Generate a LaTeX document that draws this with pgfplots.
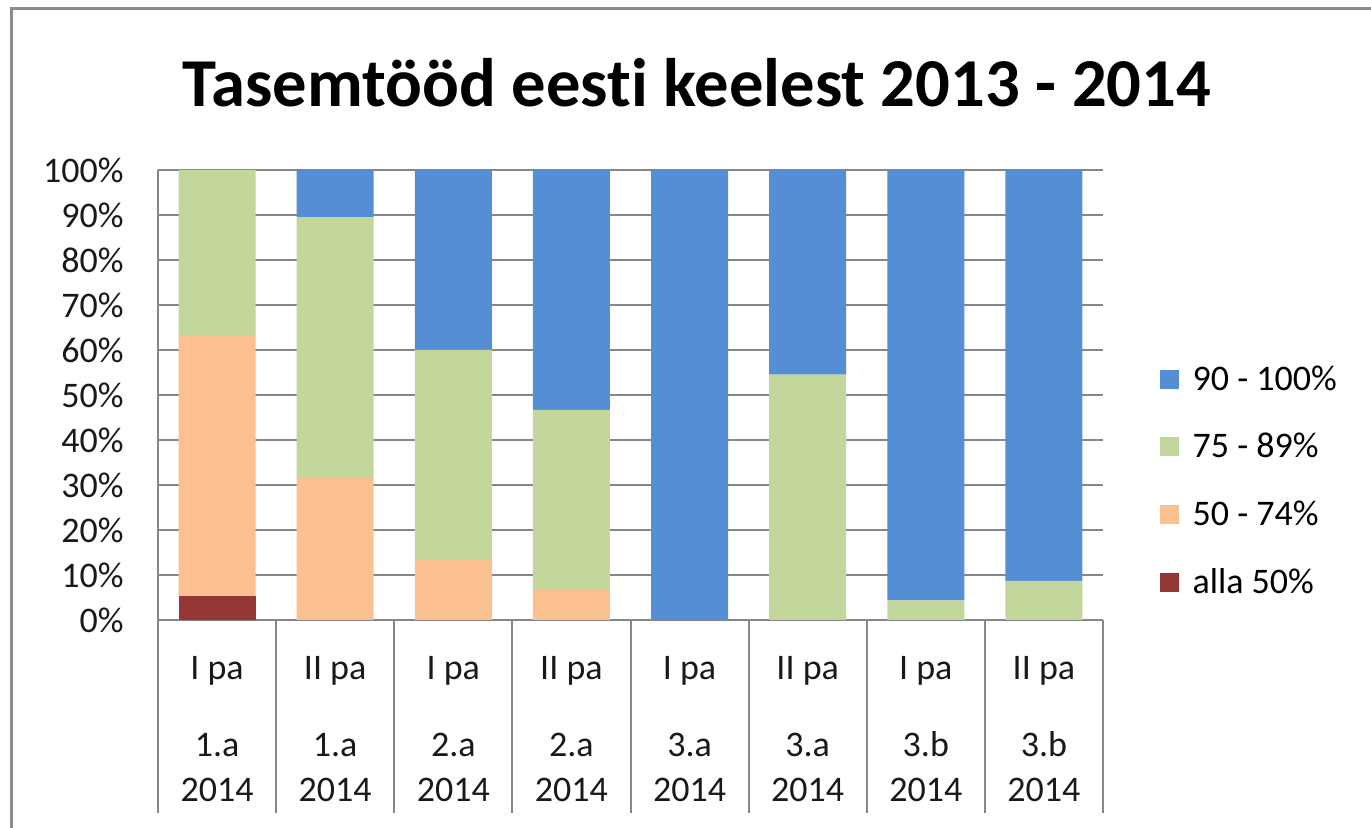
\documentclass[border=0pt]{standalone}
\usepackage{pgfplots}
\pgfplotsset{compat=1.18}
\usepackage{fontspec}
\setmainfont{Carlito}[Ligatures=NoCommon]
\definecolor{cBlue}{RGB}{85,142,213}
\definecolor{cGreen}{RGB}{195,214,155}
\definecolor{cOrange}{RGB}{250,192,144}
\definecolor{cRed}{RGB}{149,55,53}
\definecolor{cGrid}{RGB}{134,134,134}
\definecolor{cFrame}{RGB}{140,140,140}
\begin{document}
\begin{tikzpicture}
\path[use as bounding box] (0,0) rectangle (685.5pt,414pt);
\draw[line width=1.5pt, cFrame] (5.75pt,0) -- (5.75pt,409.5pt) -- (685.5pt,409.5pt);
\node[font=\fontsize{34.3}{39}\selectfont\bfseries] at (348.5pt,372.5pt) {Tasemtööd eesti keelest 2013 - 2014};
\begin{axis}[
  at={(79pt,104pt)}, anchor=south west,
  scale only axis, width=472.5pt, height=225pt,
  ybar stacked, bar width=0.652,
  xmin=-0.5, xmax=7.5, ymin=0, ymax=100,
  axis x line*=bottom, axis y line*=left,
  axis line style={cGrid, line width=1pt},
  xtick={0,1,2,3,4,5,6,7},
  xticklabels={{I pa\\[16pt]1.a\\2014},{II pa\\[16pt]1.a\\2014},{I pa\\[16pt]2.a\\2014},{II pa\\[16pt]2.a\\2014},{I pa\\[16pt]3.a\\2014},{II pa\\[16pt]3.a\\2014},{I pa\\[16pt]3.b\\2014},{II pa\\[16pt]3.b\\2014}},
  xticklabel style={align=center, anchor=north, inner sep=0pt, yshift=-18pt, font=\fontsize{18}{22.5}\selectfont, text=black!90},
  ytick={0,10,...,100},
  yticklabels={0\%,10\%,20\%,30\%,40\%,50\%,60\%,70\%,80\%,90\%,100\%},
  yticklabel style={anchor=east, inner sep=0pt, xshift=-17pt, font=\fontsize{18}{22}\selectfont, text=black!90},
  major tick length=0pt,
  ymajorgrids, grid style={cGrid, line width=1pt},
  clip=false,
  reverse legend,
  legend cell align=left,
  legend style={at={(1.0595,0.309)}, anchor=west, draw=none, fill=none,
    font=\fontsize{18}{22}\selectfont, row sep=16pt, inner sep=0pt,
    /tikz/every odd column/.append style={column sep=5pt}},
  legend image code/.code={\fill[#1] (0pt,-4.75pt) rectangle (9.5pt,4.75pt);},
]
\addplot[fill=cRed, draw=none] coordinates {(0,5.26) (1,0) (2,0) (3,0) (4,0) (5,0) (6,0) (7,0)};
\addplot[fill=cOrange, draw=none] coordinates {(0,57.89) (1,31.58) (2,13.33) (3,6.67) (4,0) (5,0) (6,0) (7,0)};
\addplot[fill=cGreen, draw=none] coordinates {(0,36.85) (1,57.89) (2,46.67) (3,40) (4,0) (5,54.55) (6,4.35) (7,8.70)};
\addplot[fill=cBlue, draw=none] coordinates {(0,0) (1,10.53) (2,40) (3,53.33) (4,100) (5,45.45) (6,95.65) (7,91.30)};
\legend{alla 50\%, 50 - 74\%, 75 - 89\%, 90 - 100\%}
\pgfplotsinvokeforeach{-0.5,0.5,1.5,2.5,3.5,4.5,5.5,6.5,7.5}{
  \draw[cGrid, line width=1pt] (axis cs:#1,0) -- ([yshift=-96.5pt]axis cs:#1,0);
}
\end{axis}
\end{tikzpicture}
\end{document}
